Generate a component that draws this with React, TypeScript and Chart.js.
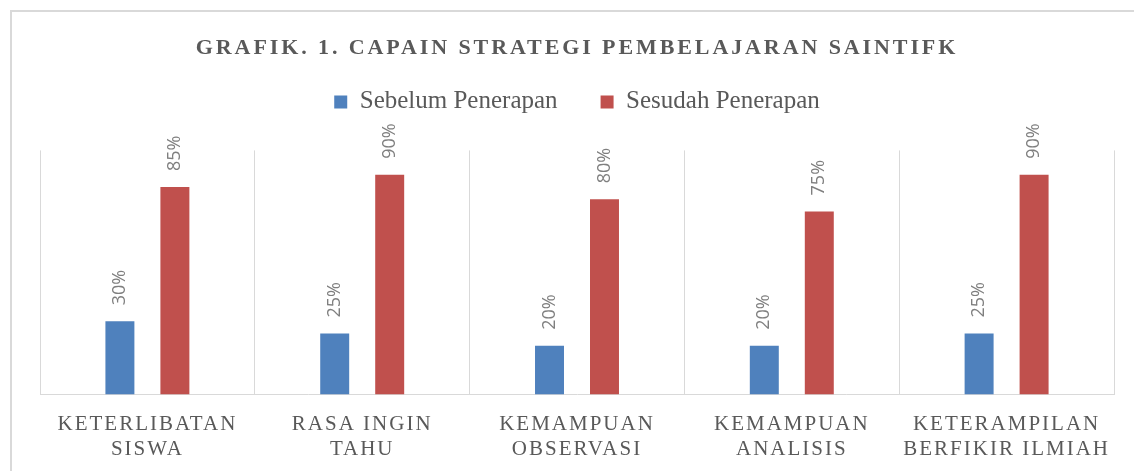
import React, { useEffect, useRef } from "react";
import { Chart, registerables } from "chart.js";

Chart.register(...registerables);

const categories: string[][] = [
  ["KETERLIBATAN", "SISWA"],
  ["RASA INGIN", "TAHU"],
  ["KEMAMPUAN", "OBSERVASI"],
  ["KEMAMPUAN", "ANALISIS"],
  ["KETERAMPILAN", "BERFIKIR ILMIAH"],
];
const seriesNames = ["Sebelum Penerapan", "Sesudah Penerapan"];
const sebelum = [30, 25, 20, 20, 25];
const sesudah = [85, 90, 80, 75, 90];
const titleText = "GRAFIK. 1. CAPAIN STRATEGI PEMBELAJARAN SAINTIFK";

const BLUE = "#4f81bd";
const RED = "#c0504d";
const TEXT = "#595959";
const GRID = "#d9d9d9";

const spacingPlugin = {
  id: "letterSpacingPatch",
  beforeDraw(chart: any) {
    const x = chart.scales.x;
    if (x && !x.__patched) {
      const orig = x.drawLabels;
      x.drawLabels = function (area: any) {
        const ctx = this.ctx;
        ctx.save();
        ctx.letterSpacing = "2px";
        orig.call(this, area);
        ctx.restore();
      };
      x.__patched = true;
    }
    const t = chart.titleBlock;
    if (t && !t.__patched) {
      const orig = t.draw;
      t.draw = function (area: any) {
        const ctx = this.ctx;
        ctx.save();
        ctx.letterSpacing = "2.9px";
        orig.call(this, area);
        ctx.restore();
      };
      t.__patched = true;
    }
  },
};

const dataLabelPlugin = {
  id: "rotatedLabels",
  afterDatasetsDraw(chart: any) {
    const ctx = chart.ctx;
    chart.data.datasets.forEach((ds: any, di: number) => {
      const meta = chart.getDatasetMeta(di);
      meta.data.forEach((el: any, i: number) => {
        const v = ds.data[i];
        ctx.save();
        ctx.translate(el.x, el.y - 16);
        ctx.rotate(-Math.PI / 2);
        ctx.font = "18px 'Open Sans'";
        ctx.fillStyle = "#7f7f7f";
        ctx.textAlign = "left";
        ctx.textBaseline = "middle";
        ctx.fillText(v + "%", 0, 0);
        ctx.restore();
      });
    });
  },
};

export default function App() {
  const ref = useRef<HTMLCanvasElement | null>(null);
  useEffect(() => {
    if (!ref.current) return;
    const chart = new Chart(ref.current, {
      type: "bar",
      data: {
        labels: categories,
        datasets: [
          {
            label: seriesNames[0],
            data: sebelum,
            backgroundColor: BLUE,
            categoryPercentage: 0.512,
            barPercentage: 0.527,
          },
          {
            label: seriesNames[1],
            data: sesudah,
            backgroundColor: RED,
            categoryPercentage: 0.512,
            barPercentage: 0.527,
          },
        ],
      },
      options: {
        responsive: false,
        animation: false,
        devicePixelRatio: 1,
        layout: { padding: { left: 40, right: 20, top: 0, bottom: -8 } },
        plugins: {
          title: {
            display: true,
            text: titleText,
            color: TEXT,
            font: { family: "'Liberation Serif'", size: 22, weight: "bold", lineHeight: 1.2 },
            padding: { top: 35, bottom: -15 },
          },
          subtitle: {
            display: true,
            text: "",
            font: { size: 1, lineHeight: 1 },
            padding: { top: 0, bottom: 25 },
          },
          legend: {
            display: true,
            position: "top",
            weight: 1600,
            labels: {
              color: TEXT,
              font: { family: "'Liberation Serif'", size: 25 },
              boxWidth: 13,
              boxHeight: 13,
              padding: 43,
            },
          },
          tooltip: { enabled: false },
        },
        scales: {
          x: {
            grid: { color: GRID, lineWidth: 1, drawTicks: false, offset: true },
            border: { color: GRID, width: 1 },
            ticks: {
              color: TEXT,
              font: { family: "'Liberation Serif'", size: 21, lineHeight: 1.2 },
              padding: 17,
              autoSkip: false,
              maxRotation: 0,
              minRotation: 0,
            },
          },
          y: {
            display: false,
            min: 0,
            max: 100,
          },
        },
      } as any,
      plugins: [spacingPlugin, dataLabelPlugin],
    });
    return () => chart.destroy();
  }, []);
  return (
    <div
      style={{
        position: "fixed",
        left: 0,
        top: 0,
        width: 1134,
        height: 471,
        overflow: "hidden",
        background: "#fff",
      }}
    >
      <div
        style={{
          position: "absolute",
          left: 10,
          top: 10,
          width: 1200,
          height: 600,
          borderLeft: "2px solid #d9d9d9",
          borderTop: "2px solid #d9d9d9",
        }}
      />
      <canvas
        ref={ref}
        width={1134}
        height={471}
        style={{ position: "absolute", left: 0, top: 0, width: 1134, height: 471 }}
      />
    </div>
  );
}
